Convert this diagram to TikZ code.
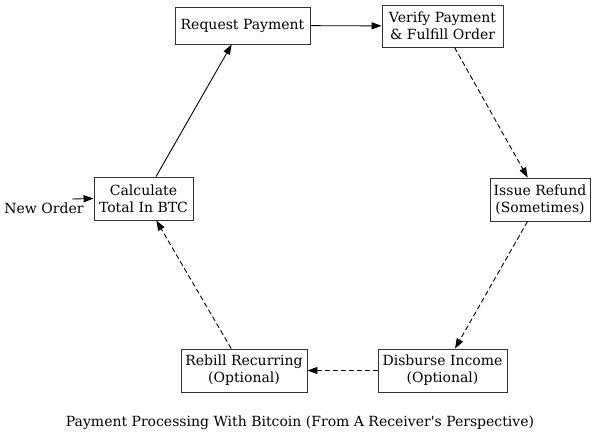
\documentclass[tikz,border=0pt]{standalone}
\usepackage{fontspec}
\setmainfont{DejaVu Serif}
\setmonofont{DejaVu Serif}
\usetikzlibrary{arrows.meta}
\begin{document}
\begin{tikzpicture}[x=1pt,y=-1pt,
  box/.style={draw=black!80,line width=0.9pt,align=center,inner sep=0pt,font=\fontsize{14}{17}\selectfont},
  lbl/.style={font=\fontsize{14}{17}\selectfont,inner sep=0pt},
  edge/.style={line width=0.9pt,-{Triangle[length=10pt,width=7pt]}},
  dashedge/.style={edge,dash pattern=on 5pt off 3pt}]
\useasboundingbox (0,0) rectangle (600,440);
\node[box,minimum width=135pt,minimum height=37pt] (req) at (242.5,25.5) {Request Payment};
\node[box,minimum width=121pt,minimum height=42pt] (ver) at (442.5,26) {Verify Payment\\\& Fulfill Order};
\node[box,minimum width=100pt,minimum height=43pt] (ref) at (540,199.5) {Issue Refund\\(Sometimes)};
\node[box,minimum width=129pt,minimum height=43pt] (dis) at (442.5,370.5) {Disburse Income\\(Optional)};
\node[box,minimum width=126pt,minimum height=43pt] (reb) at (244,370.5) {Rebill Recurring\\(Optional)};
\node[box,minimum width=99pt,minimum height=43pt] (calc) at (143.5,198.5) {Calculate\\Total In BTC};
\coordinate (start) at (72,199);
\node[lbl] (newl) at (44,208) {New Order};
\node[lbl] (title) at (300,423) {Payment Processing With Bitcoin (From A Receiver{\ttfamily '}s Perspective)};
\draw[edge] (start) -- (calc.west);
\draw[edge] (calc) -- (req);
\draw[edge] (req) -- (ver);
\draw[dashedge] (ver) -- (ref);
\draw[dashedge] (ref) -- (dis);
\draw[dashedge] (dis) -- (reb);
\draw[dashedge] (reb) -- (calc);
\end{tikzpicture}
\end{document}
